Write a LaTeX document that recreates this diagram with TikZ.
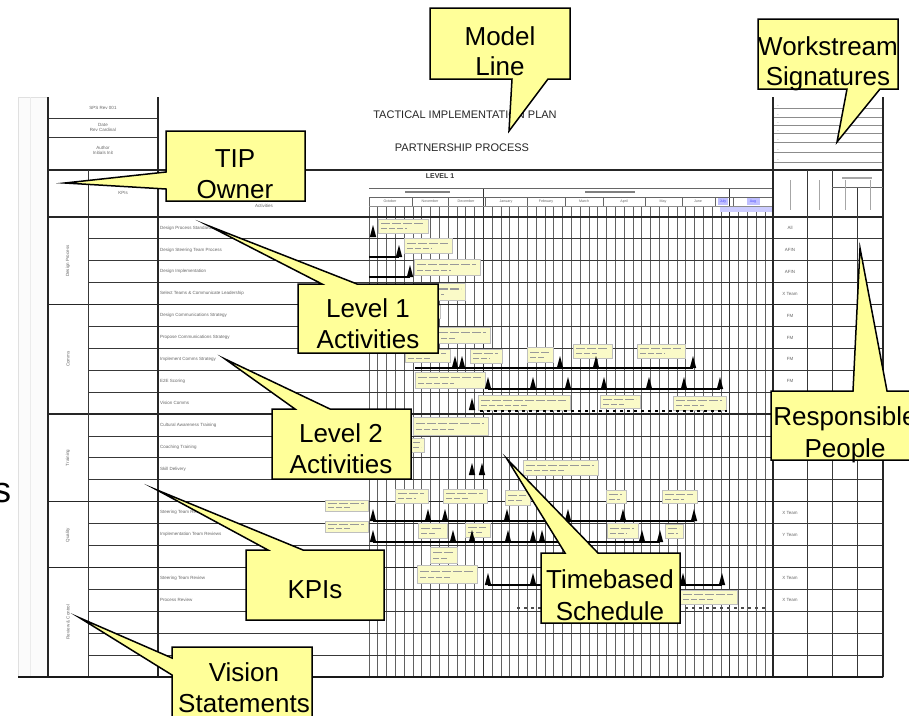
\documentclass[tikz,border=0pt]{standalone}
\usepackage{fontspec}
\setmainfont{Liberation Sans}
\definecolor{cyel}{RGB}{255,255,153}
\definecolor{pyel}{RGB}{250,250,200}
\newcommand\msTri[2]{\fill[black] ({#1-3.2},{#2}) -- ({#1},{#2-12}) -- ({#1+3.2},{#2}) -- cycle;}
\newcommand\lblBox[4]{\draw[lblbox] (#1,#2) rectangle (#3,#4);
  \draw[black!40,line width=1.1pt,dash pattern=on 9pt off 2pt] ({#1+3},{#2+(#4-#2)*0.35}) -- ({#3-4},{#2+(#4-#2)*0.35});
  \draw[black!40,line width=1.1pt,dash pattern=on 6pt off 2pt] ({#1+3},{#2+(#4-#2)*0.7}) -- ({(#1+#3)/2+4},{#2+(#4-#2)*0.7});}
\begin{document}
\begin{tikzpicture}[x=1pt,y=-1pt,
  callout/.style={fill=cyel,draw=black,line width=1.5pt,line join=miter,miter limit=30},
  ctext/.style={font=\fontsize{26}{31}\selectfont,anchor=base,inner sep=0pt},
  tinytxt/.style={font=\fontsize{4.5}{5}\selectfont,text=black!60,inner sep=0pt},
  gridline/.style={draw=black!62,line width=0.7pt},
  rowline/.style={draw=black!78,line width=0.9pt},
  grpline/.style={draw=black!85,line width=1.4pt},
  lblbox/.style={fill=pyel,draw=black!25,line width=0.4pt},
  msline/.style={draw=black,line width=1.3pt}]
\useasboundingbox (0,0) rectangle (909,715);
\fill[white] (0,0) rectangle (909,715);

% ---------- form ----------
\draw[black!12,fill=black!1.5] (18,97) rectangle (883,677);
\fill[white] (48,97) rectangle (883,677);
\draw[black!8] (30,97) -- (30,677);

% gantt grid
\foreach \k in {0,...,46} \draw[gridline] ({369+8.8*\k},206) -- ({369+8.8*\k},677);
\foreach \k in {13,41} \draw[draw=black!80,line width=1.1pt] ({369+8.8*\k},188) -- ({369+8.8*\k},677);
% month header
\draw[black!60,line width=0.6pt] (369,188) -- (773,188);
\draw[black!60,line width=0.6pt] (369,197) -- (773,197);
\draw[black!45,line width=0.5pt] (369,206) -- (773,206);
\foreach \mx in {369,412,448,485,527,565,603,645,682,715,733,773} \draw[black!60,line width=0.6pt] (\mx,197) -- (\mx,206);
\fill[blue!25] (718,198) rectangle (728,205);
\fill[blue!25] (747,198) rectangle (760,205);
\fill[blue!20] (720,207) rectangle (773,212);
\foreach \mx/\mn in {390/October,430/November,466/December,506/January,546/February,584/March,624/April,663/May,698/June}
  \node[tinytxt,font=\fontsize{3.6}{4}\selectfont] (m\mx) at (\mx,201.5) {\mn};
\node[tinytxt,font=\fontsize{3.6}{4}\selectfont,text=blue!70] (mjul) at (723,201.5) {July};
\node[tinytxt,font=\fontsize{3.6}{4}\selectfont,text=blue!70] (maug) at (753,201.5) {Aug};
\draw[black!50,line width=1.5pt] (405,192) -- (450,192);
\draw[black!50,line width=1.5pt] (585,192) -- (635,192);
\node[font=\bfseries\fontsize{7}{8}\selectfont,text=black!80,inner sep=0pt] (lvl) at (440,176) {LEVEL 1};

% title
\node[font=\fontsize{11}{12}\selectfont,text=black!85,inner sep=0pt] (title) at (465,115) {TACTICAL IMPLEMENTATION PLAN};
\node[font=\fontsize{11}{12}\selectfont,text=black!85,inner sep=0pt] (sub) at (462,148) {PARTNERSHIP PROCESS};

% rows
\foreach \i in {1,...,20} \draw[rowline] (88,{217+21.9*\i}) -- (883,{217+21.9*\i});
\foreach \i in {4,9,13,16} \draw[grpline] (48,{217+21.9*\i}) -- (883,{217+21.9*\i});
\draw[grpline] (48,217) -- (883,217);
\draw[grpline] (48,170) -- (883,170);
\draw[rowline] (48,118) -- (158,118);
\draw[rowline] (48,137) -- (158,137);
% signature lines
\foreach \sy in {108,117,125,133,142,152,162} \draw[black!45,line width=0.9pt] (773,\sy) -- (883,\sy);
\foreach \sy in {106,115,123,131,140,150,160} \node[tinytxt,font=\fontsize{3}{3}\selectfont] at (778,\sy) {--};
% verticals
\draw[grpline] (48,97) -- (48,677);
\draw[rowline] (88,170) -- (88,677);
\draw[grpline] (158,97) -- (158,677);
\draw[grpline] (773,97) -- (773,677);
\draw[grpline] (883,97) -- (883,677);
\draw[rowline] (807,170) -- (807,677);
\draw[rowline] (832,170) -- (832,677);
\draw[rowline] (857,187) -- (857,677);
\draw[black!60] (832,187) -- (883,187);
\draw[black!35,line width=1.2pt] (842,178) -- (872,178);
\foreach \hx in {790,819,845,870} \draw[black!35,line width=1pt] (\hx,180) -- (\hx,210);
\draw[black!90,line width=2.8pt] (18,677) -- (883,677);

% header texts
\node[tinytxt] (h1) at (103,108) {SPS Rev 001};
\node[tinytxt,align=center] (h2) at (103,127.5) {Date\\Rev Cardinal};
\node[tinytxt,align=center] (h3) at (103,150) {Author\\Initials Init};
\node[tinytxt] (h4) at (123,193) {KPIs};
\node[tinytxt] (h5) at (264,206) {Activities};

% group labels
\foreach \gy/\gt in {261/Design Process,359/Comms,458/Training,535/Quality,622/Review \& Control}
  \node[tinytxt,rotate=90] at (68,\gy) {\gt};

% activity names
\foreach \r/\an in {0/Design Process Standards,1/Design Steering Team Process,2/Design Implementation/Rollout Process,3/Select Teams \& Communicate Leadership,4/Design Communications Strategy,5/Propose Communications Strategy,6/Implement Comms Strategy,7/E2E Scoring,8/Vision Comms,9/Cultural Awareness Training,10/Coaching Training,11/Skill Delivery,13/Steering Team Reviews,14/Implementation Team Reviews,16/Steering Team Review,17/Process Review}
  \node[tinytxt,anchor=west] at (160,{228+21.9*\r}) {\an};

% responsible column
\foreach \r/\rt in {0/All,1/AFIN,2/AFIN,3/X Team,4/FM,5/FM,6/FM,7/FM,13/X Team,14/Y Team,16/X Team,17/X Team}
  \node[tinytxt] at (790,{228+21.9*\r}) {\rt};

% ---------- gantt label boxes ----------
\lblBox{378}{219}{428}{233}
\lblBox{404}{238}{452}{253}
\lblBox{414}{259}{480}{275}
\lblBox{414}{283}{465}{300}
\lblBox{414}{305}{440}{318}
\lblBox{414}{327}{490}{343}
\lblBox{405}{349}{450}{362}
\lblBox{470}{349}{502}{363}
\lblBox{527}{347}{553}{362}
\lblBox{573}{344}{612}{358}
\lblBox{637}{344}{685}{358}
\lblBox{415}{372}{485}{388}
\lblBox{478}{395}{570}{410}
\lblBox{600}{395}{640}{408}
\lblBox{673}{396}{726}{410}
\lblBox{413}{417}{488}{435}
\lblBox{410}{438}{424}{452}
\lblBox{523}{460}{598}{475}
\lblBox{395}{489}{428}{503}
\lblBox{443}{489}{487}{503}
\lblBox{505}{490}{530}{505}
\lblBox{606}{490}{626}{503}
\lblBox{662}{490}{697}{503}
\lblBox{325}{500}{368}{511}
\lblBox{325}{521}{368}{532}
\lblBox{418}{523}{447}{538}
\lblBox{465}{523}{490}{537}
\lblBox{607}{523}{638}{538}
\lblBox{665}{524}{683}{538}
\lblBox{430}{547}{457}{563}
\lblBox{417}{565}{477}{583}
\lblBox{680}{590}{737}{604}

% ---------- milestones ----------
\msTri{373}{237}
\draw[msline] (369,257) -- (399,257); \msTri{399}{257}
\draw[msline] (369,277) -- (410,277); \msTri{410}{277}
\draw[msline] (415,368) -- (693,368);
\foreach \m in {455,462,560,596,693} {\msTri{\m}{368}}
\draw[msline] (488,389) -- (720,389);
\foreach \m in {488,533,568,604,649,684,720} {\msTri{\m}{389}}
\msTri{472}{410}
\draw[black,line width=1.6pt,dash pattern=on 3pt off 4pt] (480,411) -- (727,411);
\foreach \m in {472,482} {\msTri{\m}{475}}
\draw[msline] (373,521) -- (694,521);
\foreach \m in {373,428,445,507,568,623,694} {\msTri{\m}{521}}
\draw[msline] (373,542) -- (660,542);
\foreach \m in {373,453,472,508,533,542,642,660} {\msTri{\m}{542}}
\draw[msline] (488,585) -- (722,585);
\foreach \m in {488,533,683,722} {\msTri{\m}{585}}
\draw[black!70,line width=1.3pt,dash pattern=on 3pt off 4pt] (517,608) -- (767,608);

% ---------- callouts ----------
\draw[callout] (430,8) -- (570,8) -- (570,79) -- (548,79) -- (509,131) -- (512,79) -- (430,79) -- cycle;
\node[ctext] (ml1) at (500,45) {Model};
\node[ctext] (ml2) at (500,75) {Line};

\draw[callout] (758,19) -- (898,19) -- (898,89) -- (880,89) -- (837,142) -- (847,89) -- (758,89) -- cycle;
\node[ctext] (ws1) at (828,55) {Workstream};
\node[ctext] (ws2) at (828,85) {Signatures};

\draw[callout] (166,131) -- (305,131) -- (305,201) -- (166,201) -- (166,189) -- (65,183) -- (166,172) -- cycle;
\node[ctext] (tip1) at (235,167) {TIP};
\node[ctext] (tip2) at (235,198) {Owner};

\draw[callout] (298,284) -- (322,284) -- (209,226) -- (357,284) -- (438,284) -- (438,353) -- (298,353) -- cycle;
\node[ctext] (l11) at (368,317) {Level 1};
\node[ctext] (l12) at (368,348) {Activities};

\draw[callout] (272,409) -- (295,409) -- (225,359) -- (330,409) -- (411,409) -- (411,479) -- (272,479) -- cycle;
\node[ctext] (l21) at (341,442) {Level 2};
\node[ctext] (l22) at (341,473) {Activities};

\draw[callout] (246,550) -- (268,550) -- (157,490) -- (303,550) -- (384,550) -- (384,620) -- (246,620) -- cycle;
\node[ctext] (kpi) at (315,598) {KPIs};

\draw[callout] (172,647) -- (312,647) -- (312,725) -- (172,725) -- (172,675) -- (80,618) -- (172,658) -- cycle;
\node[ctext] (vs1) at (244,681) {Vision};
\node[ctext] (vs2) at (244,712) {Statements};

\draw[callout] (541,553) -- (565,553) -- (507,459) -- (598,553) -- (680,553) -- (680,623) -- (541,623) -- cycle;
\node[ctext] (tb1) at (610,588) {Timebased};
\node[ctext] (tb2) at (610,620) {Schedule};

\draw[callout] (771,391) -- (853,391) -- (860,248) -- (887,391) -- (925,391) -- (925,460) -- (771,460) -- cycle;
\node[ctext] (rp1) at (845,425) {Responsible};
\node[ctext] (rp2) at (845,457) {People};

\node[font=\fontsize{36}{40}\selectfont,anchor=base west,inner sep=0pt] (stray) at (-7,502) {s};
\end{tikzpicture}
\end{document}
